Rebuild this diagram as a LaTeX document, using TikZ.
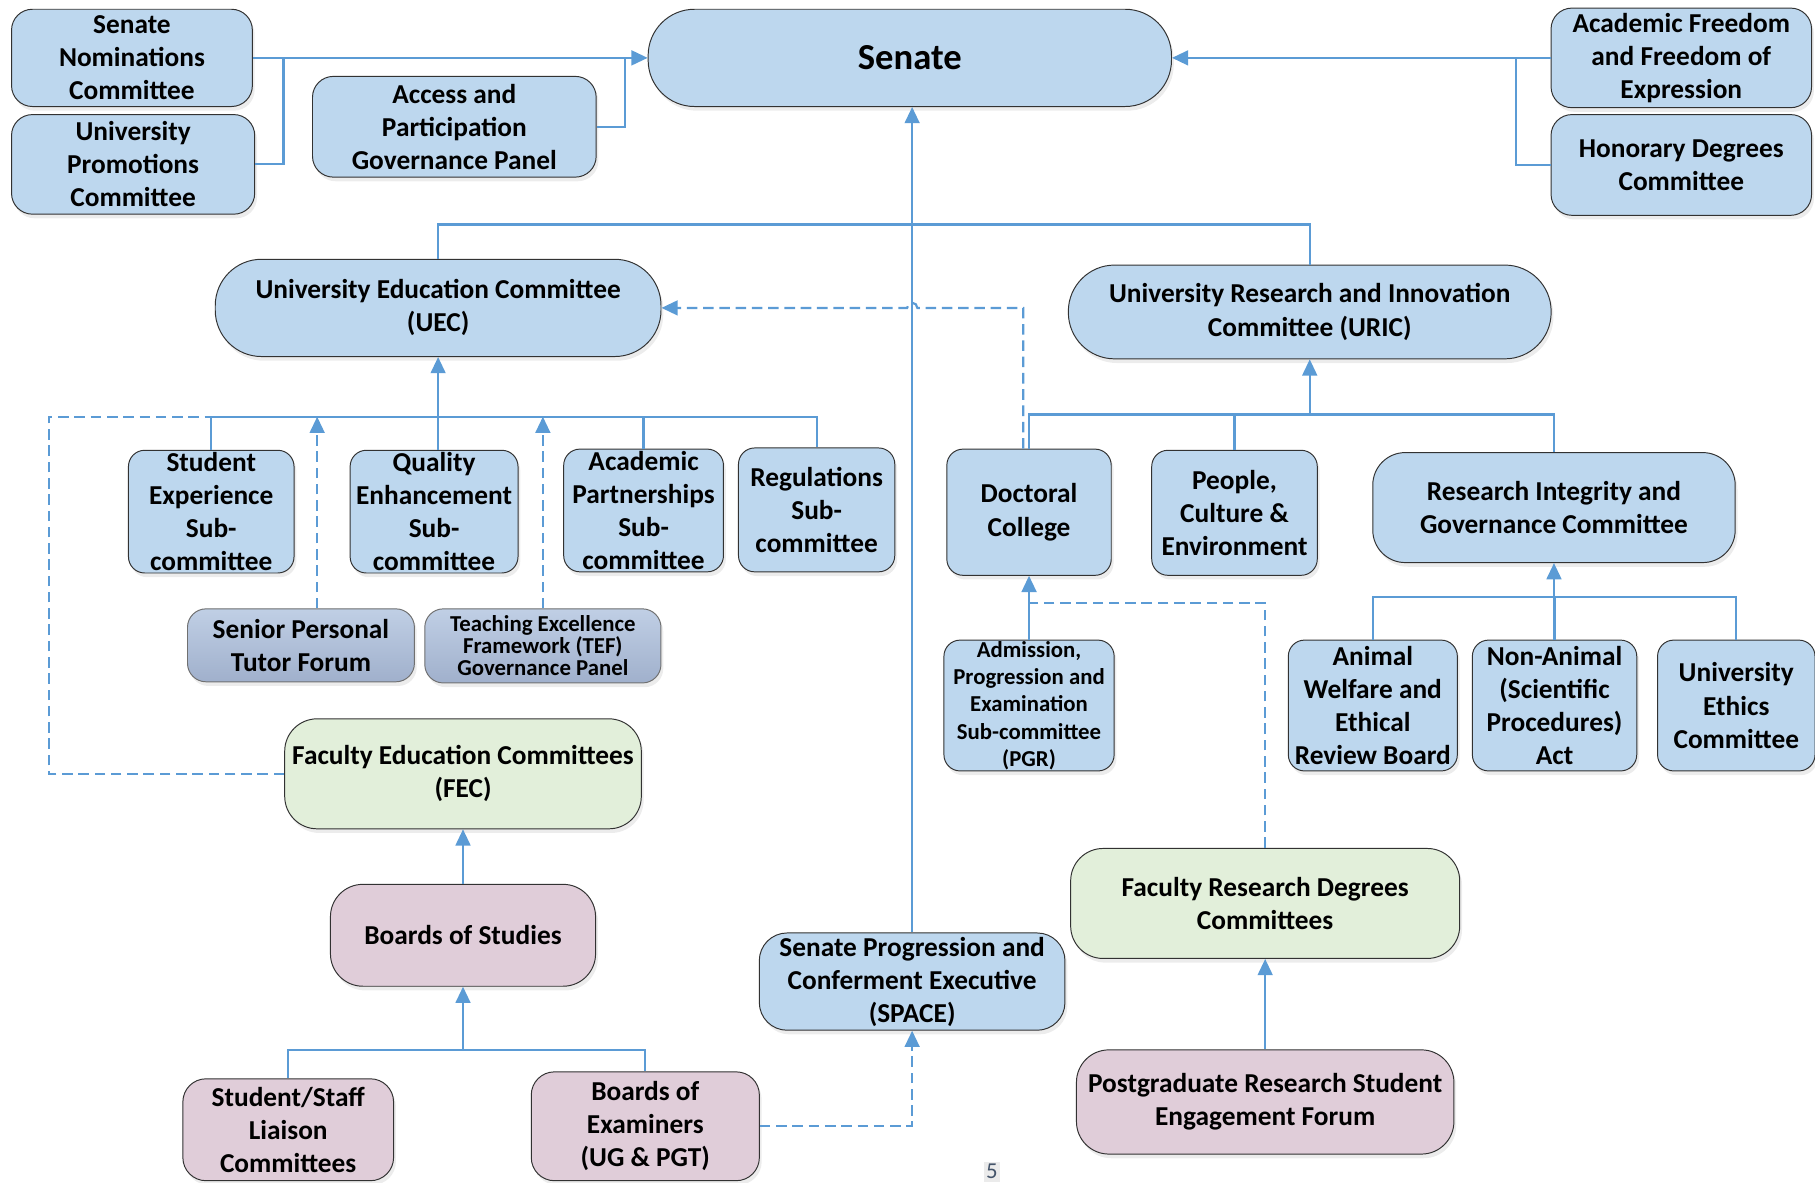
\documentclass[tikz,border=0pt]{standalone}
\usepackage{fontspec}
\setmainfont{Carlito}
\usetikzlibrary{arrows.meta,shadows}
\definecolor{boxblue}{RGB}{189,215,238}
\definecolor{boxgreen}{RGB}{226,239,218}
\definecolor{boxpink}{RGB}{224,205,217}
\definecolor{tutortop}{RGB}{192,207,229}
\definecolor{tutorbot}{RGB}{160,176,204}
\definecolor{linkblue}{RGB}{91,155,213}
\definecolor{edgegray}{RGB}{50,50,50}
\definecolor{pagegray}{RGB}{68,84,106}
\begin{document}
\begin{tikzpicture}[x=0.025cm,y=-0.025cm,
    box/.style={draw=edgegray,line width=0.6pt,fill=boxblue,rounded corners=4.5mm,
      align=center,inner sep=0pt,font=\bfseries\fontsize{16.8}{20.3}\selectfont,
      drop shadow={opacity=0.15,shadow xshift=0.5mm,shadow yshift=-0.9mm}},
    sub/.style={box,rounded corners=3.5mm},
    pill/.style={box,rounded corners=10mm},
    wide/.style={box,rounded corners=7mm},
    tutor/.style={box,draw=edgegray!70,rounded corners=4mm,top color=tutortop,bottom color=tutorbot},
    faculty/.style={wide,fill=boxgreen},
    board/.style={wide,fill=boxpink},
    link/.style={draw=linkblue,line width=1.35pt},
    arr/.style={link,-{Triangle[length=3.5mm,width=3.2mm]}},
    dashlink/.style={link,dash pattern=on 6.5pt off 3.5pt},
    dasharr/.style={arr,dash pattern=on 6.5pt off 3.5pt}]
  \useasboundingbox (0,0) rectangle (1568,1022);
  \node[box,minimum width=5.2cm,minimum height=2.1cm] (snc) at (114,50) {Senate\\Nominations\\Committee};
  \node[box,minimum width=5.25cm,minimum height=2.15cm] (upc) at (115,142) {University\\Promotions\\Committee};
  \node[box,minimum width=6.125cm,minimum height=2.175cm] (apgp) at (392.5,109.5) {Access and\\Participation\\Governance Panel};
  \node[pill,minimum width=11.3cm,minimum height=2.1cm,font=\bfseries\fontsize{22.5}{27}\selectfont] (senate) at (786,50) {Senate};
  \node[box,minimum width=5.625cm,minimum height=2.15cm] (affe) at (1452.5,50) {Academic Freedom\\and Freedom of\\Expression};
  \node[box,minimum width=5.625cm,minimum height=2.175cm] (hdc) at (1452.5,142.5) {Honorary Degrees\\Committee};
  \node[pill,minimum width=9.625cm,minimum height=2.1cm] (uec) at (378.5,266) {University Education Committee\\(UEC)};
  \node[pill,minimum width=10.425cm,minimum height=2.025cm] (uric) at (1131.5,269.5) {University Research and Innovation\\Committee (URIC)};
  \node[sub,minimum width=3.575cm,minimum height=2.65cm] (ses) at (182.5,442) {Student\\Experience\\Sub-\\committee};
  \node[sub,minimum width=3.625cm,minimum height=2.65cm] (qes) at (375,442) {Quality\\Enhancement\\Sub-\\committee};
  \node[sub,minimum width=3.45cm,minimum height=2.65cm] (aps) at (556,441) {Academic\\Partnerships\\Sub-\\committee};
  \node[sub,minimum width=3.375cm,minimum height=2.675cm] (rs) at (705.5,440.5) {Regulations\\Sub-\\committee};
  \node[tutor,minimum width=4.9cm,minimum height=1.575cm] (sptf) at (260,557.5) {Senior Personal\\Tutor Forum};
  \node[tutor,minimum width=5.1cm,minimum height=1.6cm,font=\bfseries\fontsize{14}{13.5}\selectfont] (tef) at (469,558) {Teaching Excellence\\Framework (TEF)\\Governance Panel};
  \node[faculty,minimum width=7.7cm,minimum height=2.375cm] (fec) at (400,668.5) {Faculty Education Committees\\(FEC)};
  \node[board,minimum width=5.725cm,minimum height=2.2cm] (bos) at (400,808) {Boards of Studies};
  \node[board,minimum width=4.55cm,minimum height=2.2cm,rounded corners=5mm] (sslc) at (249,976) {Student/Staff\\Liaison\\Committees};
  \node[board,minimum width=4.925cm,minimum height=2.35cm,rounded corners=5mm] (boe) at (557.5,973) {Boards of\\Examiners\\(UG \& PGT)};
  \node[box,minimum width=6.6cm,minimum height=2.1cm,rounded corners=6mm] (space) at (788,848) {Senate Progression and\\Conferment Executive\\(SPACE)};
  \node[sub,minimum width=3.55cm,minimum height=2.725cm] (dc) at (889,442.5) {Doctoral\\College};
  \node[sub,minimum width=3.575cm,minimum height=2.7cm] (pce) at (1066.5,443) {People,\\Culture \&\\Environment};
  \node[wide,minimum width=7.825cm,minimum height=2.375cm] (rigc) at (1342.5,438.5) {Research Integrity and\\Governance Committee};
  \node[sub,minimum width=3.675cm,minimum height=2.825cm,font=\bfseries\fontsize{14}{16.8}\selectfont] (apes) at (889,609.5) {Admission,\\Progression and\\Examination\\Sub-committee\\(PGR)};
  \node[sub,minimum width=3.65cm,minimum height=2.825cm] (awerb) at (1186,609.5) {Animal\\Welfare and\\Ethical\\Review Board};
  \node[sub,minimum width=3.55cm,minimum height=2.825cm] (naspa) at (1343,609.5) {Non-Animal\\(Scientific\\Procedures)\\Act};
  \node[sub,minimum width=3.4cm,minimum height=2.825cm] (ueth) at (1500,609.5) {University\\Ethics\\Committee};
  \node[faculty,minimum width=8.4cm,minimum height=2.375cm] (frdc) at (1093,780.5) {Faculty Research Degrees\\Committees};
  \node[board,minimum width=8.15cm,minimum height=2.25cm] (prsef) at (1093,952) {Postgraduate Research Student\\Engagement Forum};
  \node[anchor=south,fill=black!8,text=pagegray,inner sep=1.5pt,font=\fontsize{14}{16}\selectfont] (page) at (857,1021) {5};
  \coordinate (busL) at (245,50);
  \coordinate (busA) at (540,50);
  \coordinate (busR) at (1310,50);
  \coordinate (tier1) at (786,194);
  \coordinate (uecbus) at (378.5,360);
  \coordinate (fecbend) at (42,360);
  \coordinate (bosbus) at (400,907);
  \coordinate (uricbus) at (1131.5,358);
  \coordinate (rigcbus) at (1342.5,516);
  \coordinate (frdcbend) at (1093,521);
  \begin{scope}
    \draw[arr] (snc.east) -- (senate.west);
    \draw[link] (upc.east) -| (busL);
    \draw[link] (apgp.east) -| (busA);
    \draw[arr] (affe.west) -- (senate.east);
    \draw[link] (hdc.west) -| (busR);
    \draw[arr] (space.north) -- (space.north |- senate.south);
    \draw[link] (uec.north) |- (tier1) -| (uric.north);
    \draw[arr] (uecbus) -- (uec.south);
    \draw[link] (ses.north) |- (uecbus) -| (rs.north);
    \draw[link] (uecbus) -- (uecbus |- qes.north);
    \draw[link] (aps.north) -- (aps.north |- uecbus);
    \draw[dasharr] ([xshift=3.5mm]sptf.north) -- ([xshift=3.5mm]sptf.north |- uecbus);
    \draw[dasharr] (tef.north) -- (tef.north |- uecbus);
    \draw[dashlink] (fec.west) -| (fecbend) -- (ses.north |- uecbus);
    \draw[arr] (bos.north) -- (fec.south);
    \draw[link] (sslc.north) |- (bosbus) -| (boe.north);
    \draw[arr] (bosbus) -- (bos.south);
    \draw[dasharr] (boe.east) -| (space.south);
    \draw[dasharr] ([xshift=-1.25mm]dc.north) |- (792.5,266) arc[start angle=0,end angle=180,radius=1.1mm] -- (uec.east);
    \draw[arr] (uricbus) -- (uric.south);
    \draw[link] (dc.north) |- (uricbus) -| (rigc.north);
    \draw[link] (pce.north) -- (pce.north |- uricbus);
    \draw[arr] (rigcbus) -- (rigc.south);
    \draw[link] (awerb.north) |- (rigcbus) -| (ueth.north);
    \draw[link] (naspa.north) -- (naspa.north |- rigcbus);
    \draw[arr] (apes.north) -- (dc.south);
    \draw[dashlink] (frdc.north) |- (apes.north |- frdcbend);
    \draw[arr] (prsef.north) -- (frdc.south);
  \end{scope}
\end{tikzpicture}
\end{document}
